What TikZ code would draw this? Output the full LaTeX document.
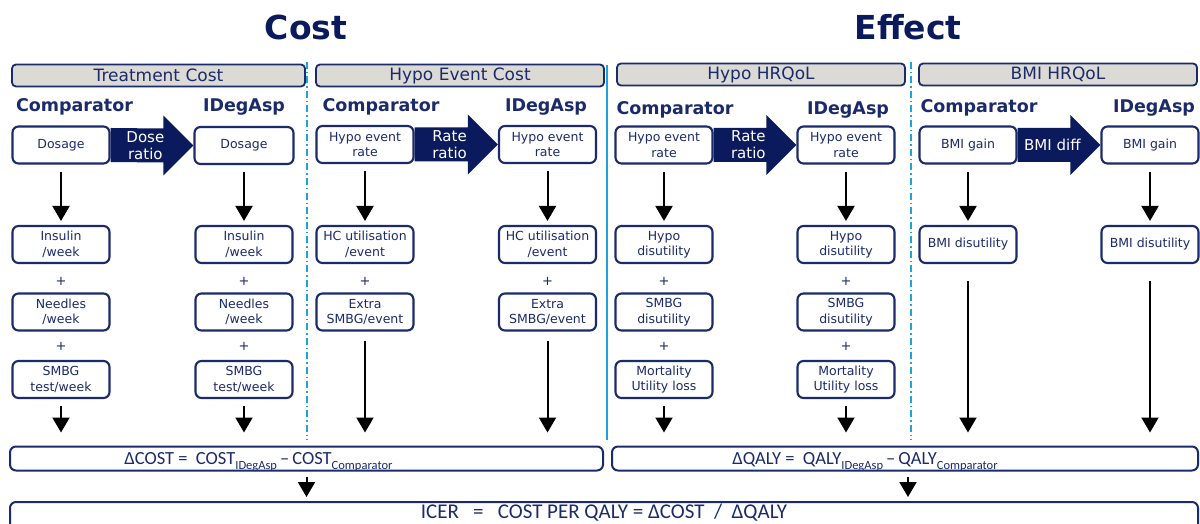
\documentclass[tikz,border=0pt]{standalone}
\usepackage{fontspec}
\setmainfont{DejaVu Sans}
\newfontfamily\calfont{Carlito}
\usetikzlibrary{arrows.meta,positioning,calc,backgrounds}
\definecolor{navy}{HTML}{1B2A6B}
\definecolor{deepnavy}{HTML}{0B1A5C}
\definecolor{skyline}{HTML}{1FA3DC}
\definecolor{headgrey}{HTML}{DCDAD4}
\newcommand{\lowtag}[1]{\raisebox{-4.5pt}{\fontsize{12.5}{13}\selectfont #1}}

\begin{document}
\begin{tikzpicture}[x=1pt,y=-1pt,
   box/.style={draw=navy,line width=2.1pt,rounded corners=6pt,fill=white,minimum width=97pt,minimum height=37pt,align=center,text=navy,font=\fontsize{12.5}{15.5}\selectfont,inner sep=1pt},
   head/.style={draw=navy,line width=1.8pt,rounded corners=4pt,fill=headgrey,minimum height=22pt,text=navy,font=\fontsize{17}{18}\selectfont,inner sep=0pt},
   arm/.style={text=navy,font=\bfseries\fontsize{17.5}{19}\selectfont},
   plus/.style={text=navy,font=\fontsize{13}{13}\selectfont},
   title/.style={text=deepnavy,font=\bfseries\fontsize{33}{36}\selectfont},
   ratio/.style={text=white,align=center,inner sep=0pt,font=\fontsize{15}{17}\selectfont},
   sum/.style={draw=navy,line width=2pt,rounded corners=6pt,text height=12pt,text depth=0pt,text=navy,font=\calfont\fontsize{18.5}{19}\selectfont,inner sep=0pt},
   split/.style={skyline,line width=2.2pt,dash pattern=on 7pt off 3pt on 1.5pt off 3pt},
   down/.style={-{Triangle[width=17pt,length=15pt]},line width=2pt}]
  \useasboundingbox (0,0) rectangle (1200,524);
  \clip (0,0) rectangle (1200,524);

  % titles and section heads
  \node[title] (cost) at (306,27) {Cost};
  \node[title] (effect) at (908,27) {Effect};
  \node[head,minimum width=293pt] (tc) at (158.5,75.5) {Treatment Cost};
  \node[head,minimum width=288pt] (hec) at (460,75.5) {Hypo Event Cost};
  \node[head,minimum width=288pt] (hq) at (761,74.5) {Hypo HRQoL};
  \node[head,minimum width=278pt] (bq) at (1058,74.5) {BMI HRQoL};

  \draw[split] (307,62) -- (307,440);
  \draw[split] (911,62) -- (911,440);
  \draw[skyline,line width=2.2pt] (607,65) -- (607,440);

  % arm labels
  \foreach \n/\x/\y in {1/74.5/107,2/381/107,3/675/110,4/979/108}
    \node[arm] (cmp\n) at (\x,\y) {Comparator};
  \foreach \n/\x/\y in {1/244/107,2/546/107,3/848/110,4/1154/108}
    \node[arm] (ida\n) at (\x,\y) {IDegAsp};

  % top boxes
  \node[box] (dosC) at (61,145) {Dosage};
  \node[box,minimum width=99pt] (dosI) at (244,145.5) {Dosage};
  \node[box] (hypC) at (365,144.5) {Hypo event\\rate};
  \node[box] (hypI) at (547.5,144.5) {Hypo event\\rate};
  \node[box] (hrC) at (664,145) {Hypo event\\rate};
  \node[box] (hrI) at (846,145) {Hypo event\\rate};
  \node[box] (bmiC) at (968,145) {BMI gain};
  \node[box] (bmiI) at (1150,145) {BMI gain};

  % ratio arrows
  \begin{scope}[on background layer]
  \foreach \a/\b/\t in {dosC/dosI/{Dose\\ratio},hypC/hypI/{Rate\\ratio},hrC/hrI/{Rate\\ratio},bmiC/bmiI/{BMI diff}} {
    \fill[deepnavy] ([yshift=17pt]\a.east) -- ([xshift=-30pt,yshift=17pt]\b.west)
      -- ([xshift=-30pt,yshift=30pt]\b.west) -- (\b.west)
      -- ([xshift=-30pt,yshift=-30pt]\b.west) -- ([xshift=-30pt,yshift=-17pt]\b.west)
      -- ([yshift=-17pt]\a.east) -- cycle;
    \node[ratio] (r\a) at ($(\a.east)!0.42!(\b.west)$) {\t};
  }
  \end{scope}

  % treatment cost columns
  \foreach \s/\x in {C/61,I/244} {
    \node[box] (ins\s) at (\x,244.5) {Insulin\\/week};
    \node[plus] (pa\s) at (\x,281) {+};
    \node[box] (ndl\s) at (\x,312) {Needles\\/week};
    \node[plus] (pb\s) at (\x,346) {+};
    \node[box] (smbg\s) at (\x,379.5) {SMBG\\test/week};
  }
  % hypo event cost columns
  \foreach \s/\x in {C/365,I/547.5} {
    \node[box] (hc\s) at (\x,244.5) {HC utilisation\\/event};
    \node[plus] (pc\s) at (\x,281) {+};
    \node[box] (ex\s) at (\x,312) {Extra\\SMBG/event};
  }
  % hypo HRQoL columns
  \foreach \s/\x in {C/664,I/846} {
    \node[box] (hd\s) at (\x,244.5) {Hypo\\disutility};
    \node[plus] (pd\s) at (\x,281) {+};
    \node[box] (sd\s) at (\x,312) {SMBG\\disutility};
    \node[plus] (pe\s) at (\x,346) {+};
    \node[box] (mort\s) at (\x,379.5) {Mortality\\Utility loss};
  }
  % BMI HRQoL columns
  \node[box] (bdC) at (968,244.5) {BMI disutility};
  \node[box] (bdI) at (1150,244.5) {BMI disutility};

  % totals
  \node[sum,minimum width=593pt,minimum height=24pt] (dcost) at (306.5,458.5)
    {ΔCOST =\ \ COST\lowtag{IDegAsp}\,–\,COST\lowtag{Comparator}\hspace*{96pt}};
  \node[sum,minimum width=586pt,minimum height=24pt] (dqaly) at (905,458.5)
    {ΔQALY =\ \ QALY\lowtag{IDegAsp}\,–\,QALY\lowtag{Comparator}\hspace*{80pt}};
  \node[sum,minimum width=1188pt,minimum height=29pt] (icer) at (604,516.5) {};
  \node[anchor=base,inner sep=0pt,text=navy,font=\calfont\fontsize{21}{22}\selectfont] (icertxt) at (604,518)
    {ICER\ \ \ =\ \ \ COST PER QALY = ΔCOST\ \ /\ \ ΔQALY};

  % arrows
  \foreach \n/\m in {dosC/insC,dosI/insI,hypC/hcC,hypI/hcI,hrC/hdC,hrI/hdI,bmiC/bdC,bmiI/bdI}
    \draw[down,shorten <=7pt,shorten >=4pt] (\n) -- (\m);
  \foreach \n/\g in {smbgC/7,smbgI/7,exC/9,exI/9,mortC/7,mortI/7}
    \draw[down,shorten <=\g pt,shorten >=13pt] (\n) -- (\n |- dcost.north);
  \foreach \n in {bdC,bdI}
    \draw[down,shorten <=17pt,shorten >=13pt] (\n) -- (\n |- dqaly.north);
  \draw[down,shorten <=5pt,shorten >=4pt] (dcost) -- (icer.north -| dcost);
  \draw[down,shorten <=5pt,shorten >=4pt] ([xshift=3pt]dqaly.south) -- ([xshift=3pt]icer.north -| dqaly);
\end{tikzpicture}
\end{document}
